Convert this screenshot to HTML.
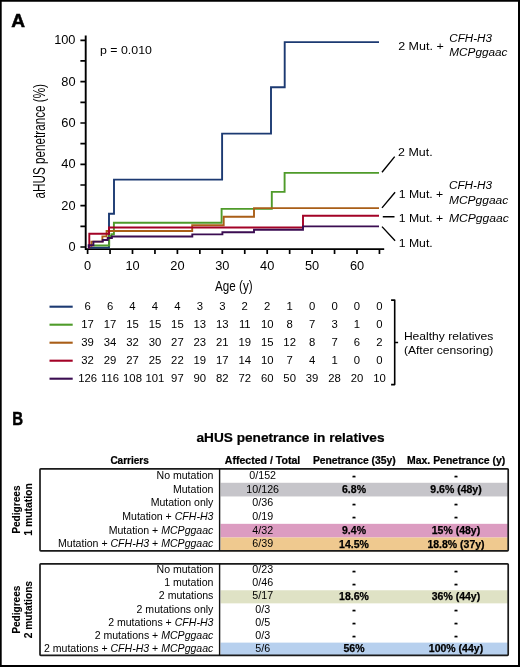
<!DOCTYPE html>
<html><head><meta charset="utf-8"><style>
html,body{margin:0;padding:0;background:#fff;width:520px;height:667px;overflow:hidden;font-family:"Liberation Sans",sans-serif;}
text{font-family:"Liberation Sans",sans-serif;}
svg{will-change:transform;}
</style></head><body>
<svg width="520" height="667" viewBox="0 0 520 667" style="position:absolute;left:0;top:0">
<rect x="0" y="0" width="520" height="667" fill="#fff"/>
<path d="M0.85 0.85H519V666H0.85Z" fill="none" stroke="#000" stroke-width="1.7"/>
<path d="M519 0V667M0 666H520" stroke="#000" stroke-width="2"/>
<text x="11.2" y="26.9" font-family="Liberation Sans" font-weight="bold" font-size="18.3" stroke="#000" stroke-width="0.5" textLength="13.8" lengthAdjust="spacingAndGlyphs">A</text>
<text x="12.3" y="425.1" font-family="Liberation Sans" font-weight="bold" font-size="18.1" stroke="#000" stroke-width="0.5" textLength="10.8" lengthAdjust="spacingAndGlyphs">B</text>
<path d="M85.7 35.5V250.1M84.8 249.1H384.2" stroke="#000" stroke-width="1.9" fill="none"/>
<path d="M80.4 247.00H85.7 M80.4 226.33H85.7 M80.4 205.66H85.7 M80.4 184.99H85.7 M80.4 164.32H85.7 M80.4 143.65H85.7 M80.4 122.98H85.7 M80.4 102.31H85.7 M80.4 81.64H85.7 M80.4 60.97H85.7 M80.4 40.30H85.7 M87.60 249.1V253.9 M110.05 249.1V253.9 M132.50 249.1V253.9 M154.95 249.1V253.9 M177.40 249.1V253.9 M199.85 249.1V253.9 M222.30 249.1V253.9 M244.75 249.1V253.9 M267.20 249.1V253.9 M289.65 249.1V253.9 M312.10 249.1V253.9 M334.55 249.1V253.9 M357.00 249.1V253.9 M379.45 249.1V253.9" stroke="#000" stroke-width="1.7" fill="none"/>
<text x="75.5" y="251.15" text-anchor="end" font-family="Liberation Sans" font-size="12.8" fill="#000">0</text>
<text x="75.5" y="209.81" text-anchor="end" font-family="Liberation Sans" font-size="12.8" fill="#000">20</text>
<text x="75.5" y="168.47" text-anchor="end" font-family="Liberation Sans" font-size="12.8" fill="#000">40</text>
<text x="75.5" y="127.13" text-anchor="end" font-family="Liberation Sans" font-size="12.8" fill="#000">60</text>
<text x="75.5" y="85.79" text-anchor="end" font-family="Liberation Sans" font-size="12.8" fill="#000">80</text>
<text x="75.5" y="44.45" text-anchor="end" font-family="Liberation Sans" font-size="12.8" fill="#000">100</text>
<text x="87.60" y="269.9" text-anchor="middle" font-family="Liberation Sans" font-size="12.8" fill="#000">0</text>
<text x="132.50" y="269.9" text-anchor="middle" font-family="Liberation Sans" font-size="12.8" fill="#000">10</text>
<text x="177.40" y="269.9" text-anchor="middle" font-family="Liberation Sans" font-size="12.8" fill="#000">20</text>
<text x="222.30" y="269.9" text-anchor="middle" font-family="Liberation Sans" font-size="12.8" fill="#000">30</text>
<text x="267.20" y="269.9" text-anchor="middle" font-family="Liberation Sans" font-size="12.8" fill="#000">40</text>
<text x="312.10" y="269.9" text-anchor="middle" font-family="Liberation Sans" font-size="12.8" fill="#000">50</text>
<text x="357.00" y="269.9" text-anchor="middle" font-family="Liberation Sans" font-size="12.8" fill="#000">60</text>
<text x="215.1" y="291.2" font-family="Liberation Sans" font-size="15.3" textLength="37.5" lengthAdjust="spacingAndGlyphs" fill="#000">Age (y)</text>
<text transform="translate(45.3 198.4) rotate(-90)" x="0" y="0" font-family="Liberation Sans" font-size="16.2" textLength="114.4" lengthAdjust="spacingAndGlyphs" fill="#000">aHUS penetrance (%)</text>
<text x="100" y="53.6" font-family="Liberation Sans" font-size="10.5" textLength="51.9" lengthAdjust="spacingAndGlyphs" fill="#000">p = 0.010</text>
<path d="M88 247.6H109V213.7H114V179.6H222.1V133.6H271V87.3H284.7V42.1H379" stroke="#1c3a72" stroke-width="1.9" fill="none" stroke-linejoin="miter" stroke-linecap="butt"/>
<path d="M94.4 246.6V245.5H109.2V236H111.4V234.3H113.9V222.7H221.6V208.9H271.8V191.9H284.6V172.9H379" stroke="#4f9b2a" stroke-width="1.9" fill="none" stroke-linejoin="miter" stroke-linecap="butt"/>
<path d="M91.5 247V241.6H102.4V236.4H106.6V231H192.2V225.2H223.7V216.7H254V208.1H379" stroke="#a95e17" stroke-width="1.9" fill="none" stroke-linejoin="miter" stroke-linecap="butt"/>
<path d="M88 247.6H89.3V233.8H109V227.5H303V215.7H379" stroke="#a30226" stroke-width="1.9" fill="none" stroke-linejoin="miter" stroke-linecap="butt"/>
<path d="M88 247.6H88.7V245.3H93.4V241.6H102.8V240H107.7V238H111.9V236.5H192.3V234.4H222.4V232.2H254V229.8H303V226.4H379" stroke="#3b0d52" stroke-width="1.9" fill="none" stroke-linejoin="miter" stroke-linecap="butt"/>
<path d="M382 172.3L394.7 156.6M382 207.9L395.1 192.3M382.8 216.8H394.5M382 226.6L395.1 240.8" stroke="#000" stroke-width="1.4" fill="none"/>
<text x="398.2" y="49.9" text-anchor="start" font-family="Liberation Sans" font-size="11.7" textLength="45.5" lengthAdjust="spacingAndGlyphs" fill="#000">2 Mut. +</text>
<text x="449.3" y="41.9" text-anchor="start" font-family="Liberation Sans" font-size="11.7" font-style="italic" textLength="42.7" lengthAdjust="spacingAndGlyphs" fill="#000">CFH-H3</text>
<text x="449.3" y="56.4" text-anchor="start" font-family="Liberation Sans" font-size="11.7" font-style="italic" textLength="58.2" lengthAdjust="spacingAndGlyphs" fill="#000">MCPggaac</text>
<text x="398.1" y="156.4" text-anchor="start" font-family="Liberation Sans" font-size="11.7" textLength="34.6" lengthAdjust="spacingAndGlyphs" fill="#000">2 Mut.</text>
<text x="398.7" y="197.5" text-anchor="start" font-family="Liberation Sans" font-size="11.7" textLength="44.6" lengthAdjust="spacingAndGlyphs" fill="#000">1 Mut. +</text>
<text x="448.9" y="189.1" text-anchor="start" font-family="Liberation Sans" font-size="11.7" font-style="italic" textLength="43.2" lengthAdjust="spacingAndGlyphs" fill="#000">CFH-H3</text>
<text x="448.9" y="203.9" text-anchor="start" font-family="Liberation Sans" font-size="11.7" font-style="italic" textLength="59.4" lengthAdjust="spacingAndGlyphs" fill="#000">MCPggaac</text>
<text x="398.7" y="222.0" text-anchor="start" font-family="Liberation Sans" font-size="11.7" textLength="44.6" lengthAdjust="spacingAndGlyphs" fill="#000">1 Mut. +</text>
<text x="448.9" y="222.0" text-anchor="start" font-family="Liberation Sans" font-size="11.7" font-style="italic" textLength="59.9" lengthAdjust="spacingAndGlyphs" fill="#000">MCPggaac</text>
<text x="398.7" y="246.5" text-anchor="start" font-family="Liberation Sans" font-size="11.7" textLength="34.0" lengthAdjust="spacingAndGlyphs" fill="#000">1 Mut.</text>
<path d="M49.5 306.7H72.7" stroke="#1c3a72" stroke-width="2.1"/>
<text x="87.60" y="310.3" text-anchor="middle" font-family="Liberation Sans" font-size="11.3" fill="#000">6</text>
<text x="110.05" y="310.3" text-anchor="middle" font-family="Liberation Sans" font-size="11.3" fill="#000">6</text>
<text x="132.50" y="310.3" text-anchor="middle" font-family="Liberation Sans" font-size="11.3" fill="#000">4</text>
<text x="154.95" y="310.3" text-anchor="middle" font-family="Liberation Sans" font-size="11.3" fill="#000">4</text>
<text x="177.40" y="310.3" text-anchor="middle" font-family="Liberation Sans" font-size="11.3" fill="#000">4</text>
<text x="199.85" y="310.3" text-anchor="middle" font-family="Liberation Sans" font-size="11.3" fill="#000">3</text>
<text x="222.30" y="310.3" text-anchor="middle" font-family="Liberation Sans" font-size="11.3" fill="#000">3</text>
<text x="244.75" y="310.3" text-anchor="middle" font-family="Liberation Sans" font-size="11.3" fill="#000">2</text>
<text x="267.20" y="310.3" text-anchor="middle" font-family="Liberation Sans" font-size="11.3" fill="#000">2</text>
<text x="289.65" y="310.3" text-anchor="middle" font-family="Liberation Sans" font-size="11.3" fill="#000">1</text>
<text x="312.10" y="310.3" text-anchor="middle" font-family="Liberation Sans" font-size="11.3" fill="#000">0</text>
<text x="334.55" y="310.3" text-anchor="middle" font-family="Liberation Sans" font-size="11.3" fill="#000">0</text>
<text x="357.00" y="310.3" text-anchor="middle" font-family="Liberation Sans" font-size="11.3" fill="#000">0</text>
<text x="379.45" y="310.3" text-anchor="middle" font-family="Liberation Sans" font-size="11.3" fill="#000">0</text>
<path d="M49.5 324.7H72.7" stroke="#4f9b2a" stroke-width="2.1"/>
<text x="87.60" y="328.3" text-anchor="middle" font-family="Liberation Sans" font-size="11.3" fill="#000">17</text>
<text x="110.05" y="328.3" text-anchor="middle" font-family="Liberation Sans" font-size="11.3" fill="#000">17</text>
<text x="132.50" y="328.3" text-anchor="middle" font-family="Liberation Sans" font-size="11.3" fill="#000">15</text>
<text x="154.95" y="328.3" text-anchor="middle" font-family="Liberation Sans" font-size="11.3" fill="#000">15</text>
<text x="177.40" y="328.3" text-anchor="middle" font-family="Liberation Sans" font-size="11.3" fill="#000">15</text>
<text x="199.85" y="328.3" text-anchor="middle" font-family="Liberation Sans" font-size="11.3" fill="#000">13</text>
<text x="222.30" y="328.3" text-anchor="middle" font-family="Liberation Sans" font-size="11.3" fill="#000">13</text>
<text x="244.75" y="328.3" text-anchor="middle" font-family="Liberation Sans" font-size="11.3" fill="#000">11</text>
<text x="267.20" y="328.3" text-anchor="middle" font-family="Liberation Sans" font-size="11.3" fill="#000">10</text>
<text x="289.65" y="328.3" text-anchor="middle" font-family="Liberation Sans" font-size="11.3" fill="#000">8</text>
<text x="312.10" y="328.3" text-anchor="middle" font-family="Liberation Sans" font-size="11.3" fill="#000">7</text>
<text x="334.55" y="328.3" text-anchor="middle" font-family="Liberation Sans" font-size="11.3" fill="#000">3</text>
<text x="357.00" y="328.3" text-anchor="middle" font-family="Liberation Sans" font-size="11.3" fill="#000">1</text>
<text x="379.45" y="328.3" text-anchor="middle" font-family="Liberation Sans" font-size="11.3" fill="#000">0</text>
<path d="M49.5 342.7H72.7" stroke="#a95e17" stroke-width="2.1"/>
<text x="87.60" y="346.3" text-anchor="middle" font-family="Liberation Sans" font-size="11.3" fill="#000">39</text>
<text x="110.05" y="346.3" text-anchor="middle" font-family="Liberation Sans" font-size="11.3" fill="#000">34</text>
<text x="132.50" y="346.3" text-anchor="middle" font-family="Liberation Sans" font-size="11.3" fill="#000">32</text>
<text x="154.95" y="346.3" text-anchor="middle" font-family="Liberation Sans" font-size="11.3" fill="#000">30</text>
<text x="177.40" y="346.3" text-anchor="middle" font-family="Liberation Sans" font-size="11.3" fill="#000">27</text>
<text x="199.85" y="346.3" text-anchor="middle" font-family="Liberation Sans" font-size="11.3" fill="#000">23</text>
<text x="222.30" y="346.3" text-anchor="middle" font-family="Liberation Sans" font-size="11.3" fill="#000">21</text>
<text x="244.75" y="346.3" text-anchor="middle" font-family="Liberation Sans" font-size="11.3" fill="#000">19</text>
<text x="267.20" y="346.3" text-anchor="middle" font-family="Liberation Sans" font-size="11.3" fill="#000">15</text>
<text x="289.65" y="346.3" text-anchor="middle" font-family="Liberation Sans" font-size="11.3" fill="#000">12</text>
<text x="312.10" y="346.3" text-anchor="middle" font-family="Liberation Sans" font-size="11.3" fill="#000">8</text>
<text x="334.55" y="346.3" text-anchor="middle" font-family="Liberation Sans" font-size="11.3" fill="#000">7</text>
<text x="357.00" y="346.3" text-anchor="middle" font-family="Liberation Sans" font-size="11.3" fill="#000">6</text>
<text x="379.45" y="346.3" text-anchor="middle" font-family="Liberation Sans" font-size="11.3" fill="#000">2</text>
<path d="M49.5 360.7H72.7" stroke="#a30226" stroke-width="2.1"/>
<text x="87.60" y="364.3" text-anchor="middle" font-family="Liberation Sans" font-size="11.3" fill="#000">32</text>
<text x="110.05" y="364.3" text-anchor="middle" font-family="Liberation Sans" font-size="11.3" fill="#000">29</text>
<text x="132.50" y="364.3" text-anchor="middle" font-family="Liberation Sans" font-size="11.3" fill="#000">27</text>
<text x="154.95" y="364.3" text-anchor="middle" font-family="Liberation Sans" font-size="11.3" fill="#000">25</text>
<text x="177.40" y="364.3" text-anchor="middle" font-family="Liberation Sans" font-size="11.3" fill="#000">22</text>
<text x="199.85" y="364.3" text-anchor="middle" font-family="Liberation Sans" font-size="11.3" fill="#000">19</text>
<text x="222.30" y="364.3" text-anchor="middle" font-family="Liberation Sans" font-size="11.3" fill="#000">17</text>
<text x="244.75" y="364.3" text-anchor="middle" font-family="Liberation Sans" font-size="11.3" fill="#000">14</text>
<text x="267.20" y="364.3" text-anchor="middle" font-family="Liberation Sans" font-size="11.3" fill="#000">10</text>
<text x="289.65" y="364.3" text-anchor="middle" font-family="Liberation Sans" font-size="11.3" fill="#000">7</text>
<text x="312.10" y="364.3" text-anchor="middle" font-family="Liberation Sans" font-size="11.3" fill="#000">4</text>
<text x="334.55" y="364.3" text-anchor="middle" font-family="Liberation Sans" font-size="11.3" fill="#000">1</text>
<text x="357.00" y="364.3" text-anchor="middle" font-family="Liberation Sans" font-size="11.3" fill="#000">0</text>
<text x="379.45" y="364.3" text-anchor="middle" font-family="Liberation Sans" font-size="11.3" fill="#000">0</text>
<path d="M49.5 378.7H72.7" stroke="#3b0d52" stroke-width="2.1"/>
<text x="87.60" y="382.3" text-anchor="middle" font-family="Liberation Sans" font-size="11.3" fill="#000">126</text>
<text x="110.05" y="382.3" text-anchor="middle" font-family="Liberation Sans" font-size="11.3" fill="#000">116</text>
<text x="132.50" y="382.3" text-anchor="middle" font-family="Liberation Sans" font-size="11.3" fill="#000">108</text>
<text x="154.95" y="382.3" text-anchor="middle" font-family="Liberation Sans" font-size="11.3" fill="#000">101</text>
<text x="177.40" y="382.3" text-anchor="middle" font-family="Liberation Sans" font-size="11.3" fill="#000">97</text>
<text x="199.85" y="382.3" text-anchor="middle" font-family="Liberation Sans" font-size="11.3" fill="#000">90</text>
<text x="222.30" y="382.3" text-anchor="middle" font-family="Liberation Sans" font-size="11.3" fill="#000">82</text>
<text x="244.75" y="382.3" text-anchor="middle" font-family="Liberation Sans" font-size="11.3" fill="#000">72</text>
<text x="267.20" y="382.3" text-anchor="middle" font-family="Liberation Sans" font-size="11.3" fill="#000">60</text>
<text x="289.65" y="382.3" text-anchor="middle" font-family="Liberation Sans" font-size="11.3" fill="#000">50</text>
<text x="312.10" y="382.3" text-anchor="middle" font-family="Liberation Sans" font-size="11.3" fill="#000">39</text>
<text x="334.55" y="382.3" text-anchor="middle" font-family="Liberation Sans" font-size="11.3" fill="#000">28</text>
<text x="357.00" y="382.3" text-anchor="middle" font-family="Liberation Sans" font-size="11.3" fill="#000">20</text>
<text x="379.45" y="382.3" text-anchor="middle" font-family="Liberation Sans" font-size="11.3" fill="#000">10</text>
<path d="M391.1 300.1H394.7V384.6H391.1M394.7 342.5H398.1" stroke="#000" stroke-width="1.6" fill="none" stroke-linejoin="round"/>
<text x="403.9" y="339.5" text-anchor="start" font-family="Liberation Sans" font-size="11.6" textLength="89.4" lengthAdjust="spacingAndGlyphs" fill="#000">Healthy relatives</text>
<text x="403.9" y="353.6" text-anchor="start" font-family="Liberation Sans" font-size="11.6" textLength="89.4" lengthAdjust="spacingAndGlyphs" fill="#000">(After censoring)</text>
<text x="196.5" y="441.8" text-anchor="start" font-family="Liberation Sans" font-size="13.5" font-weight="bold" stroke="#000" stroke-width="0.22" textLength="188" lengthAdjust="spacingAndGlyphs" fill="#000">aHUS penetrance in relatives</text>
<text x="110.4" y="463.8" text-anchor="start" font-family="Liberation Sans" font-size="10" font-weight="bold" stroke="#000" stroke-width="0.22" textLength="38.4" lengthAdjust="spacingAndGlyphs" fill="#000">Carriers</text>
<text x="224.8" y="463.8" text-anchor="start" font-family="Liberation Sans" font-size="10" font-weight="bold" stroke="#000" stroke-width="0.22" textLength="75.4" lengthAdjust="spacingAndGlyphs" fill="#000">Affected / Total</text>
<text x="312.9" y="463.8" text-anchor="start" font-family="Liberation Sans" font-size="10" font-weight="bold" stroke="#000" stroke-width="0.22" textLength="82.8" lengthAdjust="spacingAndGlyphs" fill="#000">Penetrance (35y)</text>
<text x="407.0" y="463.8" text-anchor="start" font-family="Liberation Sans" font-size="10" font-weight="bold" stroke="#000" stroke-width="0.22" textLength="98.2" lengthAdjust="spacingAndGlyphs" fill="#000">Max. Penetrance (y)</text>
<path d="M0 468.7H80" stroke="#fff" stroke-width="0"/>
<rect x="220.6" y="482.78" width="287.2" height="13.68" fill="#c6c5ca"/>
<rect x="220.6" y="523.83" width="287.2" height="13.68" fill="#dc9cc1"/>
<rect x="220.6" y="537.52" width="287.2" height="13.68" fill="#efc98f"/>
<rect x="40.0" y="468.8" width="468.2" height="82.10" rx="0.8" fill="none" stroke="#1a1a1a" stroke-width="1.7" stroke-linejoin="round"/>
<path d="M219.6 468.8V550.9" stroke="#111" stroke-width="1.4"/>
<text x="213.4" y="478.88" text-anchor="end" font-family="Liberation Sans" font-size="10.55" fill="#000">No mutation</text>
<text x="262.7" y="478.88" text-anchor="middle" font-family="Liberation Sans" font-size="10.7" fill="#000">0/152</text>
<text x="354" y="479.18" text-anchor="middle" font-family="Liberation Sans" font-size="10.5" font-weight="bold" fill="#000" stroke="#000" stroke-width="0.25">-</text>
<text x="456" y="479.18" text-anchor="middle" font-family="Liberation Sans" font-size="10.5" font-weight="bold" fill="#000" stroke="#000" stroke-width="0.25">-</text>
<text x="213.4" y="492.57" text-anchor="end" font-family="Liberation Sans" font-size="10.55" fill="#000">Mutation</text>
<text x="262.7" y="492.57" text-anchor="middle" font-family="Liberation Sans" font-size="10.7" fill="#000">10/126</text>
<text x="354" y="492.87" text-anchor="middle" font-family="Liberation Sans" font-size="10.5" font-weight="bold" fill="#000" stroke="#000" stroke-width="0.25">6.8%</text>
<text x="456" y="492.87" text-anchor="middle" font-family="Liberation Sans" font-size="10.5" font-weight="bold" fill="#000" stroke="#000" stroke-width="0.25">9.6% (48y)</text>
<text x="213.4" y="506.25" text-anchor="end" font-family="Liberation Sans" font-size="10.55" fill="#000">Mutation only</text>
<text x="262.7" y="506.25" text-anchor="middle" font-family="Liberation Sans" font-size="10.7" fill="#000">0/36</text>
<text x="354" y="506.55" text-anchor="middle" font-family="Liberation Sans" font-size="10.5" font-weight="bold" fill="#000" stroke="#000" stroke-width="0.25">-</text>
<text x="456" y="506.55" text-anchor="middle" font-family="Liberation Sans" font-size="10.5" font-weight="bold" fill="#000" stroke="#000" stroke-width="0.25">-</text>
<text x="213.4" y="519.93" text-anchor="end" font-family="Liberation Sans" font-size="10.55" fill="#000">Mutation + <tspan font-style="italic">CFH-H3</tspan></text>
<text x="262.7" y="519.93" text-anchor="middle" font-family="Liberation Sans" font-size="10.7" fill="#000">0/19</text>
<text x="354" y="520.23" text-anchor="middle" font-family="Liberation Sans" font-size="10.5" font-weight="bold" fill="#000" stroke="#000" stroke-width="0.25">-</text>
<text x="456" y="520.23" text-anchor="middle" font-family="Liberation Sans" font-size="10.5" font-weight="bold" fill="#000" stroke="#000" stroke-width="0.25">-</text>
<text x="213.4" y="533.62" text-anchor="end" font-family="Liberation Sans" font-size="10.55" fill="#000">Mutation + <tspan font-style="italic">MCPggaac</tspan></text>
<text x="262.7" y="533.62" text-anchor="middle" font-family="Liberation Sans" font-size="10.7" fill="#000">4/32</text>
<text x="354" y="533.92" text-anchor="middle" font-family="Liberation Sans" font-size="10.5" font-weight="bold" fill="#000" stroke="#000" stroke-width="0.25">9.4%</text>
<text x="456" y="533.92" text-anchor="middle" font-family="Liberation Sans" font-size="10.5" font-weight="bold" fill="#000" stroke="#000" stroke-width="0.25">15% (48y)</text>
<text x="213.4" y="547.30" text-anchor="end" font-family="Liberation Sans" font-size="10.55" fill="#000">Mutation + <tspan font-style="italic">CFH-H3</tspan> + <tspan font-style="italic">MCPggaac</tspan></text>
<text x="262.7" y="547.30" text-anchor="middle" font-family="Liberation Sans" font-size="10.7" fill="#000">6/39</text>
<text x="354" y="547.60" text-anchor="middle" font-family="Liberation Sans" font-size="10.5" font-weight="bold" fill="#000" stroke="#000" stroke-width="0.25">14.5%</text>
<text x="456" y="547.60" text-anchor="middle" font-family="Liberation Sans" font-size="10.5" font-weight="bold" fill="#000" stroke="#000" stroke-width="0.25">18.8% (37y)</text>
<rect x="220.6" y="590.27" width="287.2" height="13.09" fill="#dfe2c5"/>
<rect x="220.6" y="642.61" width="287.2" height="13.09" fill="#b7d0ee"/>
<rect x="40.0" y="563.8" width="468.2" height="91.60" rx="0.8" fill="none" stroke="#1a1a1a" stroke-width="1.7" stroke-linejoin="round"/>
<path d="M219.6 563.8V655.4" stroke="#111" stroke-width="1.4"/>
<text x="213.4" y="573.29" text-anchor="end" font-family="Liberation Sans" font-size="10.55" fill="#000">No mutation</text>
<text x="262.7" y="573.29" text-anchor="middle" font-family="Liberation Sans" font-size="10.7" fill="#000">0/23</text>
<text x="354" y="573.59" text-anchor="middle" font-family="Liberation Sans" font-size="10.5" font-weight="bold" fill="#000" stroke="#000" stroke-width="0.25">-</text>
<text x="456" y="573.59" text-anchor="middle" font-family="Liberation Sans" font-size="10.5" font-weight="bold" fill="#000" stroke="#000" stroke-width="0.25">-</text>
<text x="213.4" y="586.37" text-anchor="end" font-family="Liberation Sans" font-size="10.55" fill="#000">1 mutation</text>
<text x="262.7" y="586.37" text-anchor="middle" font-family="Liberation Sans" font-size="10.7" fill="#000">0/46</text>
<text x="354" y="586.67" text-anchor="middle" font-family="Liberation Sans" font-size="10.5" font-weight="bold" fill="#000" stroke="#000" stroke-width="0.25">-</text>
<text x="456" y="586.67" text-anchor="middle" font-family="Liberation Sans" font-size="10.5" font-weight="bold" fill="#000" stroke="#000" stroke-width="0.25">-</text>
<text x="213.4" y="599.46" text-anchor="end" font-family="Liberation Sans" font-size="10.55" fill="#000">2 mutations</text>
<text x="262.7" y="599.46" text-anchor="middle" font-family="Liberation Sans" font-size="10.7" fill="#000">5/17</text>
<text x="354" y="599.76" text-anchor="middle" font-family="Liberation Sans" font-size="10.5" font-weight="bold" fill="#000" stroke="#000" stroke-width="0.25">18.6%</text>
<text x="456" y="599.76" text-anchor="middle" font-family="Liberation Sans" font-size="10.5" font-weight="bold" fill="#000" stroke="#000" stroke-width="0.25">36% (44y)</text>
<text x="213.4" y="612.54" text-anchor="end" font-family="Liberation Sans" font-size="10.55" fill="#000">2 mutations only</text>
<text x="262.7" y="612.54" text-anchor="middle" font-family="Liberation Sans" font-size="10.7" fill="#000">0/3</text>
<text x="354" y="612.84" text-anchor="middle" font-family="Liberation Sans" font-size="10.5" font-weight="bold" fill="#000" stroke="#000" stroke-width="0.25">-</text>
<text x="456" y="612.84" text-anchor="middle" font-family="Liberation Sans" font-size="10.5" font-weight="bold" fill="#000" stroke="#000" stroke-width="0.25">-</text>
<text x="213.4" y="625.63" text-anchor="end" font-family="Liberation Sans" font-size="10.55" fill="#000">2 mutations + <tspan font-style="italic">CFH-H3</tspan></text>
<text x="262.7" y="625.63" text-anchor="middle" font-family="Liberation Sans" font-size="10.7" fill="#000">0/5</text>
<text x="354" y="625.93" text-anchor="middle" font-family="Liberation Sans" font-size="10.5" font-weight="bold" fill="#000" stroke="#000" stroke-width="0.25">-</text>
<text x="456" y="625.93" text-anchor="middle" font-family="Liberation Sans" font-size="10.5" font-weight="bold" fill="#000" stroke="#000" stroke-width="0.25">-</text>
<text x="213.4" y="638.71" text-anchor="end" font-family="Liberation Sans" font-size="10.55" fill="#000">2 mutations + <tspan font-style="italic">MCPggaac</tspan></text>
<text x="262.7" y="638.71" text-anchor="middle" font-family="Liberation Sans" font-size="10.7" fill="#000">0/3</text>
<text x="354" y="639.01" text-anchor="middle" font-family="Liberation Sans" font-size="10.5" font-weight="bold" fill="#000" stroke="#000" stroke-width="0.25">-</text>
<text x="456" y="639.01" text-anchor="middle" font-family="Liberation Sans" font-size="10.5" font-weight="bold" fill="#000" stroke="#000" stroke-width="0.25">-</text>
<text x="213.4" y="651.80" text-anchor="end" font-family="Liberation Sans" font-size="10.55" fill="#000">2 mutations + <tspan font-style="italic">CFH-H3</tspan> + <tspan font-style="italic">MCPggaac</tspan></text>
<text x="262.7" y="651.80" text-anchor="middle" font-family="Liberation Sans" font-size="10.7" fill="#000">5/6</text>
<text x="354" y="652.10" text-anchor="middle" font-family="Liberation Sans" font-size="10.5" font-weight="bold" fill="#000" stroke="#000" stroke-width="0.25">56%</text>
<text x="456" y="652.10" text-anchor="middle" font-family="Liberation Sans" font-size="10.5" font-weight="bold" fill="#000" stroke="#000" stroke-width="0.25">100% (44y)</text>
<text transform="translate(20.3 509.6) rotate(-90)" text-anchor="middle" font-family="Liberation Sans" font-size="10.3" font-weight="bold" stroke="#000" stroke-width="0.1" textLength="48.3" lengthAdjust="spacingAndGlyphs" fill="#000">Pedigrees</text>
<text transform="translate(32.2 509.5) rotate(-90)" text-anchor="middle" font-family="Liberation Sans" font-size="10.3" font-weight="bold" stroke="#000" stroke-width="0.1" textLength="52.5" lengthAdjust="spacingAndGlyphs" fill="#000">1 mutation</text>
<text transform="translate(20.3 609.7) rotate(-90)" text-anchor="middle" font-family="Liberation Sans" font-size="10.3" font-weight="bold" stroke="#000" stroke-width="0.1" textLength="48.3" lengthAdjust="spacingAndGlyphs" fill="#000">Pedigrees</text>
<text transform="translate(32.2 609.6) rotate(-90)" text-anchor="middle" font-family="Liberation Sans" font-size="10.3" font-weight="bold" stroke="#000" stroke-width="0.1" textLength="57.3" lengthAdjust="spacingAndGlyphs" fill="#000">2 mutations</text>
</svg>
</body></html>
